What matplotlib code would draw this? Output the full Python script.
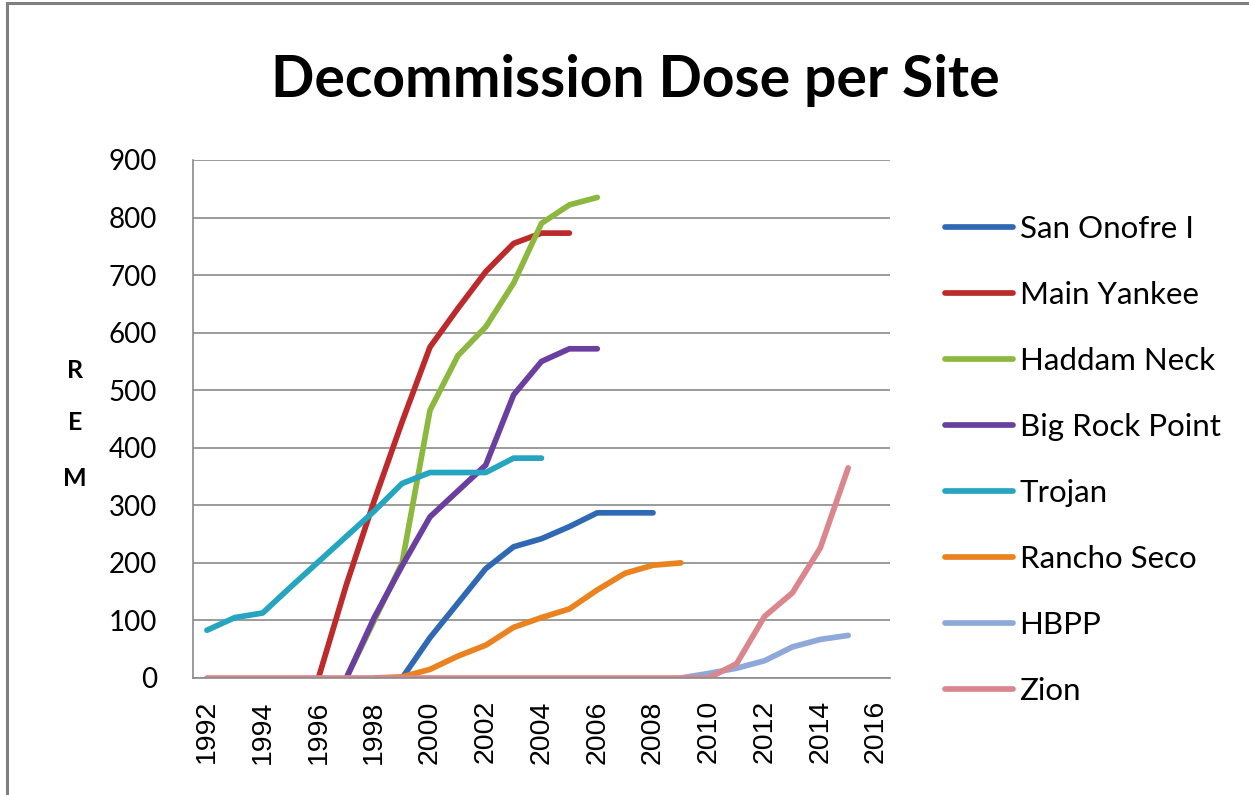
import numpy as np
import matplotlib
matplotlib.use("Agg")
import matplotlib.pyplot as plt
from matplotlib.lines import Line2D

years = list(range(1992, 2016))
N = None

san_onofre   = [N,N,N,N,N,N,N, 0, 70,130,190,228,242,263,287,287,287, N, N, N, N, N, N, N]
main_yankee  = [N,N,N,N, 0,162,308,445,575,642,706,755,773,773, N, N, N, N, N, N, N, N, N, N]
haddam_neck  = [N,N,N,N,N, 0,100,200,465,560,610,686,790,822,835, N, N, N, N, N, N, N, N, N]
big_rock     = [N,N,N,N,N, 0,105,195,280,325,370,492,550,572,572, N, N, N, N, N, N, N, N, N]
trojan       = [83,105,113,158,202,246,290,338,357,357,357,382,382, N, N, N, N, N, N, N, N, N, N, N]
rancho_seco  = [N,N,N,N,N,N, 0, 2, 15, 38, 57, 88,105,120,153,182,196,200, N, N, N, N, N, N]
hbpp         = [N,N,N,N,N,N,N,N,N,N,N,N,N,N,N,N,N, 0, 8, 17, 30, 54, 67, 74]
zion         = [0,0,0,0,0,0,0,0,0,0,0,0,0,0,0,0,0,0, 0, 25,107,148,226,365]

series_names = ["San Onofre I", "Main Yankee", "Haddam Neck", "Big Rock Point",
                "Trojan", "Rancho Seco", "HBPP", "Zion"]
series_values = [san_onofre, main_yankee, haddam_neck, big_rock, trojan,
                 rancho_seco, hbpp, zion]
colors = ["#2F69B3", "#BC2A2C", "#8CB83F", "#6A3F9F", "#25A5BF", "#E9821F",
          "#8EA9D9", "#D9868D"]

xtick_years = list(range(1992, 2017, 2))
yticks = list(range(0, 901, 100))

W, H = 1249, 795
fig = plt.figure(figsize=(W/100, H/100), dpi=100)
ax = fig.add_axes([193/W, 1-678/H, 697/W, 518/H])

for name, vals, c in zip(series_names, series_values, colors):
    y = np.array([np.nan if v is None else v for v in vals], dtype=float)
    ax.plot(years, y, color=c, lw=4.1, label=name,
            solid_capstyle="round", solid_joinstyle="round")

ax.set_xlim(1991.5, 2016.5)
ax.set_ylim(0, 900)
ax.set_yticks(yticks)
ax.set_xticks(xtick_years)
ax.set_xticklabels([str(y) for y in xtick_years], rotation=90,
                   fontfamily="Liberation Sans", fontsize=20.5)
ax.set_yticklabels([str(v) for v in yticks], fontfamily="Lato", fontsize=20)
ax.tick_params(axis="x", length=0, pad=16)
ax.tick_params(axis="y", length=0, pad=26)
ax.grid(axis="y", color="#8a8a8a", lw=1.2)
ax.set_axisbelow(True)
for s in ["top", "right"]:
    ax.spines[s].set_visible(False)
for s in ["left", "bottom"]:
    ax.spines[s].set_color("#8a8a8a")
    ax.spines[s].set_linewidth(1.2)

fig.text(635/W, 1-97/H, "Decommission Dose per Site", ha="center", va="baseline",
         fontfamily="Lato", fontweight="bold", fontsize=41)

for letter, yy in zip("REM", [370, 423, 478]):
    fig.text(75/W, 1-yy/H, letter, ha="center", va="center",
             fontfamily="Lato", fontweight="bold", fontsize=18)

fig.legend(loc="upper left", bbox_to_anchor=(932/W, 1-202/H), frameon=False,
           prop={"family": "Lato", "size": 22.5}, handlelength=2.2,
           handletextpad=0.2, labelspacing=1.22, borderaxespad=0)

fig.add_artist(Line2D([7/W, 1.0], [1-3/H, 1-3/H], transform=fig.transFigure,
                      color="#7f7f7f", lw=2.2))
fig.add_artist(Line2D([7/W, 7/W], [0, 1-3/H], transform=fig.transFigure,
                      color="#7f7f7f", lw=2.2))

fig.savefig("out.png", dpi=100)
